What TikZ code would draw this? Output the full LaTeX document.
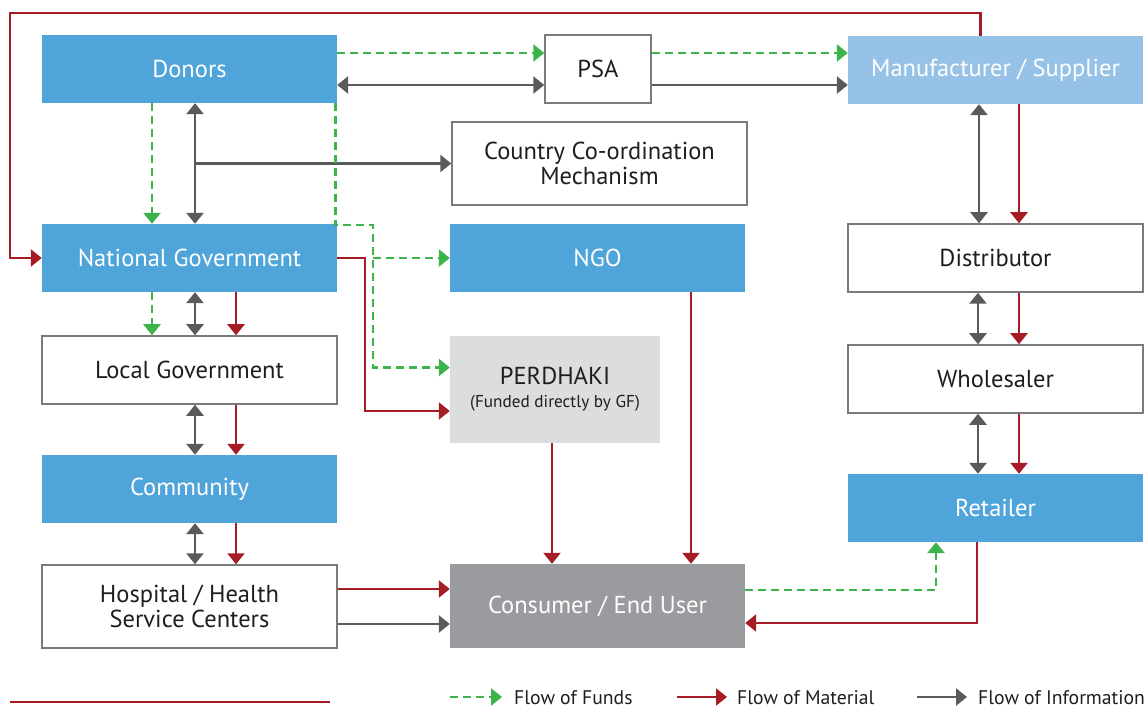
\documentclass[tikz,border=0pt]{standalone}
\usepackage{fontspec}
\setmainfont{PT Sans}
\usetikzlibrary{arrows.meta}

\definecolor{boxblue}{HTML}{4FA4DA}
\definecolor{lightblue}{HTML}{96C2E7}
\definecolor{perdgray}{HTML}{DCDDDF}
\definecolor{usergray}{HTML}{9A9B9F}
\definecolor{boxline}{HTML}{7A7A7A}
\definecolor{textdark}{HTML}{1E1E1E}
\definecolor{fundgreen}{HTML}{3CB449}
\definecolor{matred}{HTML}{A51C24}
\definecolor{infogray}{HTML}{5A5A5A}

\begin{document}
\begin{tikzpicture}[x=1pt,y=-1pt,
    font=\fontsize{24.5}{27}\selectfont,
    >={Triangle[length=11pt,width=17pt]},
    box/.style={minimum width=295pt, minimum height=68pt, inner sep=0pt, align=center},
    bluebox/.style={box, fill=boxblue, text=white},
    whitebox/.style={box, draw=boxline, line width=1.5pt, fill=white, text=textdark},
    funds/.style={draw=fundgreen, line width=2.7pt, dash pattern=on 8pt off 5pt, ->},
    material/.style={draw=matred, line width=2.5pt, ->},
    info/.style={draw=infogray, line width=2.8pt, ->},
    legendtext/.style={anchor=west, inner sep=0pt, text=textdark, font=\fontsize{19.7}{22}\selectfont}]
    \useasboundingbox (0,0) rectangle (1148,708);

    % boxes
    \node[bluebox] (donors) at (189.5,69) {Donors};
    \node[whitebox, minimum width=106pt] (psa) at (598,69) {PSA};
    \node[box, fill=lightblue, text=white] (manu) at (995.5,70) {Manufacturer / Supplier};
    \node[whitebox, minimum height=83pt] (ccm) at (599.5,163.5) {Country Co-ordination\\[-2pt]Mechanism};
    \node[bluebox] (natgov) at (189.5,258) {National Government};
    \node[bluebox] (ngo) at (597.5,258) {NGO};
    \node[whitebox] (distrib) at (995.5,258) {Distributor};
    \node[whitebox] (localgov) at (189.5,370) {Local Government};
    \node[box, fill=perdgray, text=textdark, minimum width=210pt, minimum height=107pt] (perdhaki) at (555,389.5)
        {PERDHAKI\\[-4pt]{\fontsize{17.2}{19}\selectfont (Funded directly by GF)}};
    \node[whitebox] (wholesaler) at (995.5,379) {Wholesaler};
    \node[bluebox] (community) at (189.5,489) {Community};
    \node[bluebox] (retailer) at (995.5,508) {Retailer};
    \node[whitebox, minimum height=83pt] (hospital) at (189.5,606.5) {Hospital / Health\\[-2pt]Service Centers};
    \node[box, fill=usergray, text=white, minimum height=84pt] (consumer) at (597.5,606) {Consumer / End User};

    % corners of the long connectors
    \coordinate (loop) at (10,13);
    \coordinate (fundjoin) at (373,225);
    \coordinate (matjoin) at (365,258);

    % top row
    \draw[material] ([xshift=-15pt]manu.north) |- (loop) |- (natgov.west);
    \draw[funds] ([yshift=16pt]donors.east) -- ([yshift=16pt]donors.east -| psa.west);
    \draw[info, <->] ([yshift=-16pt]donors.east) -- ([yshift=-16pt]donors.east -| psa.west);
    \draw[funds] ([yshift=16pt]psa.east) -- ([yshift=16pt]psa.east -| manu.west);
    \draw[info] ([yshift=-16pt]psa.east) -- ([yshift=-16pt]psa.east -| manu.west);

    % donors downwards
    \draw[funds] ([xshift=-37.5pt]donors.south) -- ([xshift=-37.5pt]natgov.north);
    \draw[info, <->] ([xshift=5.5pt]donors.south) -- ([xshift=5.5pt]natgov.north);
    \draw[info] ([xshift=5.5pt]donors.south |- ccm.west) -- (ccm.west);
    \draw[funds] ([xshift=-2pt]donors.south east) |- (fundjoin) |- ([yshift=22pt]perdhaki.west);
    \draw[funds] (fundjoin |- ngo.west) -- (ngo.west);
    \draw[material] (natgov.east) -- (matjoin) |- ([yshift=-21.5pt]perdhaki.west);

    % government column
    \draw[funds] ([xshift=-37.5pt]natgov.south) -- ([xshift=-37.5pt]localgov.north);
    \draw[info, <->] ([xshift=5.5pt]natgov.south) -- ([xshift=5.5pt]localgov.north);
    \draw[material] ([xshift=46.5pt]natgov.south) -- ([xshift=46.5pt]localgov.north);
    \draw[info, <->] ([xshift=5.5pt]localgov.south) -- ([xshift=5.5pt]community.north);
    \draw[material] ([xshift=46.5pt]localgov.south) -- ([xshift=46.5pt]community.north);
    \draw[info, <->] ([xshift=5.5pt]community.south) -- ([xshift=5.5pt]hospital.north);
    \draw[material] ([xshift=46.5pt]community.south) -- ([xshift=46.5pt]hospital.north);
    \draw[material] ([yshift=17.5pt]hospital.east) -- ([yshift=17.5pt]hospital.east -| consumer.west);
    \draw[info] ([yshift=-17.5pt]hospital.east) -- ([yshift=-17.5pt]hospital.east -| consumer.west);

    % middle column
    \draw[material] ([xshift=-3pt]perdhaki.south) -- ([xshift=-3pt]perdhaki.south |- consumer.north);
    \draw[material] ([xshift=93.5pt]ngo.south) -- ([xshift=93.5pt]ngo.south |- consumer.north);

    % supply chain column
    \draw[info, <->] ([xshift=-16.5pt]manu.south) -- ([xshift=-16.5pt]distrib.north);
    \draw[material] ([xshift=23.5pt]manu.south) -- ([xshift=23.5pt]distrib.north);
    \draw[info, <->] ([xshift=-17.5pt]distrib.south) -- ([xshift=-17.5pt]wholesaler.north);
    \draw[material] ([xshift=23.5pt]distrib.south) -- ([xshift=23.5pt]wholesaler.north);
    \draw[info, <->] ([xshift=-17.5pt]wholesaler.south) -- ([xshift=-17.5pt]retailer.north);
    \draw[material] ([xshift=23.5pt]wholesaler.south) -- ([xshift=23.5pt]retailer.north);
    \draw[funds] ([yshift=16pt]consumer.east) -| ([xshift=-59.5pt]retailer.south);
    \draw[material] ([xshift=-18.5pt]retailer.south) |- ([yshift=-17pt]consumer.east);

    % legend
    \draw[matred, line width=1.5pt] (10,702) -- (330,702);
    \coordinate (fundsa) at (450,697);
    \coordinate (fundsb) at (502,697);
    \coordinate (mata) at (677,697);
    \coordinate (matb) at (727,697);
    \coordinate (infoa) at (917,697);
    \coordinate (infob) at (967,697);
    \draw[funds] (fundsa) -- (fundsb);
    \draw[material] (mata) -- (matb);
    \draw[info] (infoa) -- (infob);
    \node[legendtext] (fundslabel) at (514,698) {Flow of Funds};
    \node[legendtext] (matlabel) at (737,698) {Flow of Material};
    \node[legendtext] (infolabel) at (978,698) {Flow of Information};
\end{tikzpicture}
\end{document}
